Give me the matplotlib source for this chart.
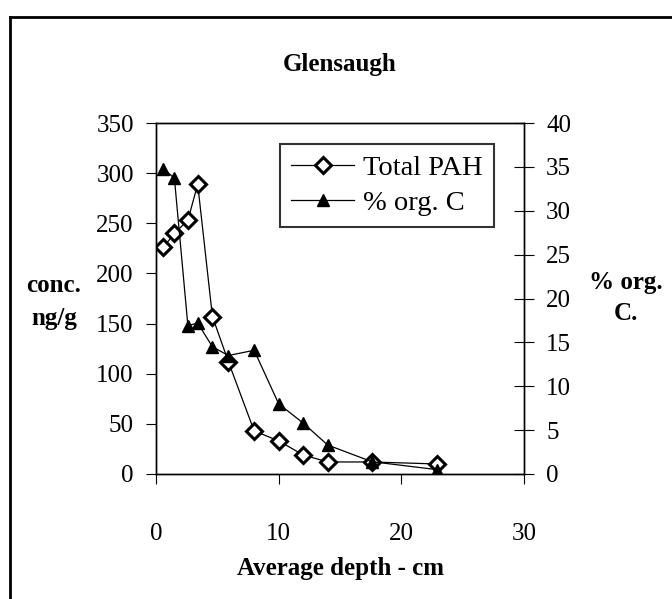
import matplotlib.pyplot as plt
from matplotlib.lines import Line2D

plt.rcParams['font.family'] = ['Liberation Serif', 'DejaVu Serif']

# --- data ---
depth = [0.6, 1.5, 2.6, 3.4, 4.6, 5.9, 8.0, 10.0, 12.0, 14.0, 17.6, 22.9]
total_pah = [226, 240, 253, 289, 157, 112, 43, 33, 19, 12, 12, 10]
org_c = [34.8, 33.7, 16.9, 17.2, 14.5, 13.5, 14.1, 8.0, 5.8, 3.3, 1.4, 0.5]

x_ticks = [0, 10, 20, 30]
left_ticks = list(range(0, 351, 50))
right_ticks = list(range(0, 41, 5))

W, H = 672, 599
fig = plt.figure(figsize=(W / 100, H / 100), dpi=100)
ax = fig.add_axes([156 / W, 1 - 474 / H, (524 - 156) / W, (474 - 123) / H])
ax2 = ax.twinx()

fs = 18

ax.plot(depth, total_pah, color="black", linewidth=0.9, marker="D",
        markersize=8, markerfacecolor="white", markeredgecolor="black",
        markeredgewidth=2.2, zorder=3)
ax2.plot(depth, org_c, color="black", linewidth=0.9, marker="^",
         markersize=9, markerfacecolor="black", markeredgecolor="black",
         zorder=2)

ax.set_xlim(0, 30)
ax.set_ylim(0, 350)
ax2.set_ylim(0, 40)
ax.set_xticks(x_ticks)
ax.set_yticks(left_ticks)
ax2.set_yticks(right_ticks)

ax.tick_params(axis="x", direction="out", length=7, pad=28, labelsize=fs)
ax.tick_params(axis="y", direction="out", length=7, pad=9, labelsize=fs)
ax2.tick_params(axis="y", direction="inout", length=14, pad=9, labelsize=fs)

for a in (ax, ax2):
    for s in a.spines.values():
        s.set_linewidth(1.0)

ax.set_title("Glensaugh", fontsize=fs, fontweight="bold",
             y=1 + (123 - 64) / 351, va="center", pad=0)
ax.set_xlabel("Average depth - cm", fontsize=fs, fontweight="bold", va="center")
ax.xaxis.set_label_coords(0.5, -(569 - 474) / 351)

ax.set_ylabel("conc.\nng/g", fontsize=fs, fontweight="bold", rotation=0,
              ha="center", va="center", linespacing=1.5)
ax.yaxis.set_label_coords((54 - 156) / 368, 1 - (302 - 123) / 351)
ax2.set_ylabel("% org.\nC.", fontsize=fs, fontweight="bold", rotation=0,
               ha="center", va="center", linespacing=1.5)
ax2.yaxis.set_label_coords((626 - 156) / 368, 1 - (298 - 123) / 351)

handles = [
    Line2D([], [], color="black", linewidth=0.9, marker="D", markersize=8,
           markerfacecolor="white", markeredgecolor="black", markeredgewidth=2.2),
    Line2D([], [], color="black", linewidth=0.9, marker="^", markersize=9,
           markerfacecolor="black"),
]
leg = ax2.legend(handles, ["Total PAH", "% org. C"], loc="upper left",
                 bbox_to_anchor=(280 / W, 1 - 144 / H),
                 bbox_transform=fig.transFigure, fontsize=20.5,
                 frameon=True, fancybox=False, handlelength=2.2,
                 handletextpad=0.3, labelspacing=0.3, borderpad=0.4,
                 borderaxespad=0)
leg.get_frame().set_edgecolor("black")
leg.get_frame().set_linewidth(1.5)

# outer frame of the scanned figure
fig.add_artist(Line2D([10 / W, 1], [1 - 17 / H, 1 - 17 / H],
                      transform=fig.transFigure, color="black", linewidth=2))
fig.add_artist(Line2D([10 / W, 10 / W], [0, 1 - 17 / H],
                      transform=fig.transFigure, color="black", linewidth=2))

fig.savefig("out.png", dpi=100)
